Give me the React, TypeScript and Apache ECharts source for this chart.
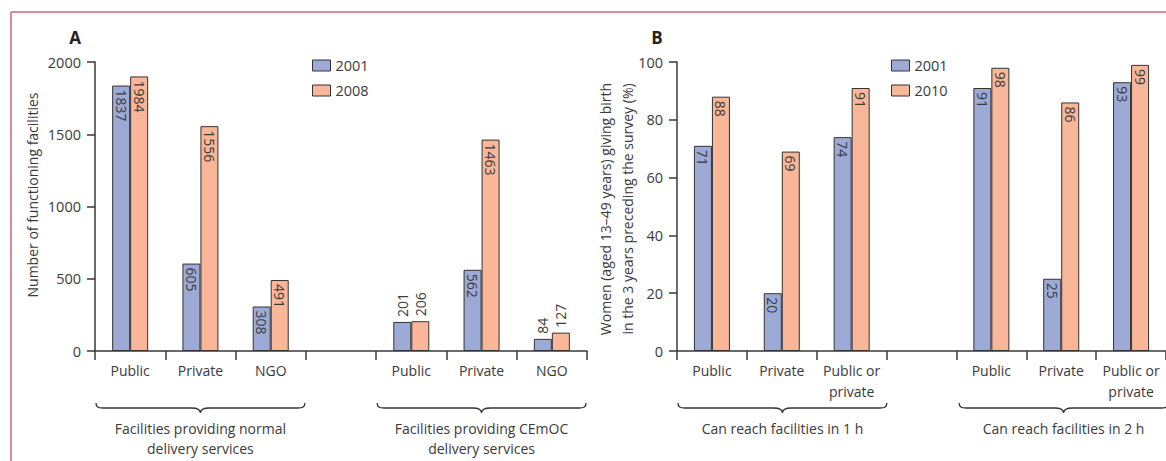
import React, { useEffect, useRef } from "react";
import * as echarts from "echarts";

// ---------- data ----------
const categoriesA = ["Public", "Private", "NGO", "", "Public", "Private", "NGO"];
const categoriesB = ["Public", "Private", "Public or\nprivate", "", "Public", "Private", "Public or\nprivate"];

const seriesNamesA = ["2001", "2008"];
const seriesNamesB = ["2001", "2010"];

// Panel A: number of functioning facilities (bar heights as drawn)
const valuesA2001 = [1837, 605, 308, null, 201, 562, 84];
const valuesA2008 = [1900, 1556, 491, null, 206, 1463, 127];
// printed labels (the 2008 public bar is labelled 1984 in the original)
const printedA2001 = [1837, 605, 308, null, 201, 562, 84];
const printedA2008 = [1984, 1556, 491, null, 206, 1463, 127];

// Panel B: women giving birth (%)
const valuesB2001 = [71, 20, 74, null, 91, 25, 93];
const valuesB2010 = [88, 69, 91, null, 98, 86, 99];

const ticksA = { min: 0, max: 2000, interval: 500 };
const ticksB = { min: 0, max: 100, interval: 20 };

const groupLabelsA = ["Facilities providing normal\ndelivery services", "Facilities providing CEmOC\ndelivery services"];
const groupLabelsB = ["Can reach facilities in 1 h", "Can reach facilities in 2 h"];

const yNameA = "Number of functioning facilities";
const yNameB = "Women (aged 13\u201349 years) giving birth\nin the 3 years preceding the survey (%)";

// ---------- style ----------
const FONT = "'Open Sans', 'Noto Sans', sans-serif";
const TXT = "#3a3a3a";
const AX = "#3a3a3a";
const BLUE = "#9daad6";
const SALMON = "#f9b698";
const BORDER = "#333";
const FRAME = "#d3607c";

const GRID_TOP = 62;
const GRID_H = 289;
const GRID_W = 492;
const LEFT_A = 95;
const LEFT_B = 677;

function labelItem(value: number | null, printed: number | null, outsideBelow: number) {
  if (value == null) return { value: null };
  const outside = value < outsideBelow;
  return {
    value,
    label: outside
      ? {
          show: true,
          position: "top",
          rotate: 90,
          align: "left",
          verticalAlign: "middle",
          distance: 5,
          formatter: String(printed),
        }
      : {
          show: true,
          position: "insideTop",
          rotate: -90,
          align: "left",
          verticalAlign: "middle",
          distance: 4,
          formatter: String(printed),
        },
  };
}

function braceShape(name: string, x0: number, x1: number, y0: number) {
  const m = (x0 + x1) / 2;
  const yl = y0 + 5;
  const yt = y0 + 10;
  const d =
    `M${x0},${y0} C${x0},${y0 + 4} ${x0 + 2},${yl} ${x0 + 7},${yl} ` +
    `L${m - 9},${yl} C${m - 3},${yl} ${m},${yl + 1.5} ${m},${yt} ` +
    `C${m},${yl + 1.5} ${m + 3},${yl} ${m + 9},${yl} ` +
    `L${x1 - 7},${yl} C${x1 - 2},${yl} ${x1},${y0 + 4} ${x1},${y0}`;
  echarts.graphic.registerShape(name, echarts.graphic.extendPath(d, {}));
  return {
    type: name,
    style: { fill: "none", stroke: "#333", lineWidth: 1.3 },
    silent: true,
  };
}

export default function App() {
  const ref = useRef<HTMLDivElement>(null);

  useEffect(() => {
    if (!ref.current) return;
    const chart = echarts.init(ref.current, undefined, { renderer: "svg" });
    const catW = GRID_W / 7;

    const braces: any[] = [];
    const groupTexts: any[] = [];
    [LEFT_A, LEFT_B].forEach((L, gi) => {
      const labels = gi === 0 ? groupLabelsA : groupLabelsB;
      [0, 1].forEach((g) => {
        const x0 = L + g * 4 * catW + 1;
        const x1 = L + (g * 4 + 3) * catW - 1;
        braces.push(braceShape(`brace${gi}${g}`, x0, x1, 403));
        groupTexts.push({
          type: "text",
          x: (x0 + x1) / 2,
          y: 418,
          silent: true,
          style: {
            text: labels[g],
            align: "center",
            verticalAlign: "top",
            fontFamily: FONT,
            fontSize: 14,
            lineHeight: 20,
            fill: TXT,
          },
        });
      });
    });

    const axisCommonX = (idx: number, data: string[]) => ({
      type: "category",
      gridIndex: idx,
      data,
      axisLine: { show: true, lineStyle: { color: AX, width: 1.5 } },
      axisTick: { show: true, interval: 0, length: 9, lineStyle: { color: AX, width: 1.5 } },
      axisLabel: {
        interval: 0,
        margin: 9,
        fontFamily: FONT,
        fontSize: 14,
        lineHeight: 21,
        color: TXT,
      },
      splitLine: { show: false },
    });
    const axisCommonY = (idx: number, t: any) => ({
      type: "value",
      gridIndex: idx,
      min: t.min,
      max: t.max,
      interval: t.interval,
      axisLine: { show: true, lineStyle: { color: AX, width: 1.5 } },
      axisTick: { show: true, length: 8, lineStyle: { color: AX, width: 1.5 } },
      axisLabel: {
        margin: 14,
        fontFamily: FONT,
        fontSize: 14.5,
        color: TXT,
        formatter: (v: number) => String(v),
      },
      splitLine: { show: false },
    });

    const labelBase = { fontFamily: FONT, fontSize: 14, color: TXT };

    const barSeries = (name: string, color: string, idx: number, data: any[]) => ({
      name,
      type: "bar",
      xAxisIndex: idx,
      yAxisIndex: idx,
      barWidth: 18,
      barGap: "0%",
      itemStyle: { color, borderColor: BORDER, borderWidth: 1 },
      label: { ...labelBase },
      data,
    });

    const legendCommon = {
      orient: "vertical",
      top: 58,
      itemWidth: 18,
      itemHeight: 11,
      itemGap: 10,
      padding: 0,
      icon: "rect",
      selectedMode: false,
      itemStyle: { borderColor: BORDER, borderWidth: 1 },
      textStyle: { fontFamily: FONT, fontSize: 14.5, color: TXT, padding: [0, 0, 0, 0] },
    };

    chart.setOption({
      animation: false,
      backgroundColor: "#fff",
      textStyle: { fontFamily: FONT },
      grid: [
        { left: LEFT_A, top: GRID_TOP, width: GRID_W, height: GRID_H, containLabel: false },
        { left: LEFT_B, top: GRID_TOP, width: GRID_W, height: GRID_H, containLabel: false },
      ],
      xAxis: [axisCommonX(0, categoriesA), axisCommonX(1, categoriesB)],
      yAxis: [axisCommonY(0, ticksA), axisCommonY(1, ticksB)],
      legend: [
        { ...legendCommon, left: 312, data: seriesNamesA },
        { ...legendCommon, left: 891, data: seriesNamesB },
      ],
      series: [
        barSeries(seriesNamesA[0], BLUE, 0, valuesA2001.map((v, i) => labelItem(v, printedA2001[i], 250))),
        barSeries(seriesNamesA[1], SALMON, 0, valuesA2008.map((v, i) => labelItem(v, printedA2008[i], 250))),
        barSeries(seriesNamesB[0], BLUE, 1, valuesB2001.map((v) => labelItem(v, v, -1))),
        barSeries(seriesNamesB[1], SALMON, 1, valuesB2010.map((v) => labelItem(v, v, -1))),
      ],
      graphic: [
        { type: "line", silent: true, shape: { x1: 11, y1: 12, x2: 1166, y2: 12 }, style: { stroke: FRAME, lineWidth: 1.5 } },
        { type: "line", silent: true, shape: { x1: 11, y1: 12, x2: 11, y2: 461 }, style: { stroke: FRAME, lineWidth: 1.5 } },
        {
          type: "text", x: 75, y: 37, silent: true,
          style: { text: "A", align: "center", verticalAlign: "middle", fontFamily: FONT, fontSize: 17, fontWeight: "bold", fill: "#222" },
        },
        {
          type: "text", x: 657, y: 37, silent: true,
          style: { text: "B", align: "center", verticalAlign: "middle", fontFamily: FONT, fontSize: 17, fontWeight: "bold", fill: "#222" },
        },
        {
          type: "text", x: 32, y: 195, rotation: Math.PI / 2, silent: true,
          style: { text: yNameA, align: "center", verticalAlign: "middle", fontFamily: FONT, fontSize: 14, fill: TXT },
        },
        {
          type: "text", x: 616, y: 209, rotation: Math.PI / 2, silent: true,
          style: { text: yNameB, align: "center", verticalAlign: "middle", fontFamily: FONT, fontSize: 14, lineHeight: 22, fill: TXT },
        },
        ...braces,
        ...groupTexts,
      ],
    });

    return () => chart.dispose();
  }, []);

  return (
    <div
      ref={ref}
      style={{ position: "fixed", left: 0, top: 0, width: 1166, height: 461, background: "#fff" }}
    />
  );
}
